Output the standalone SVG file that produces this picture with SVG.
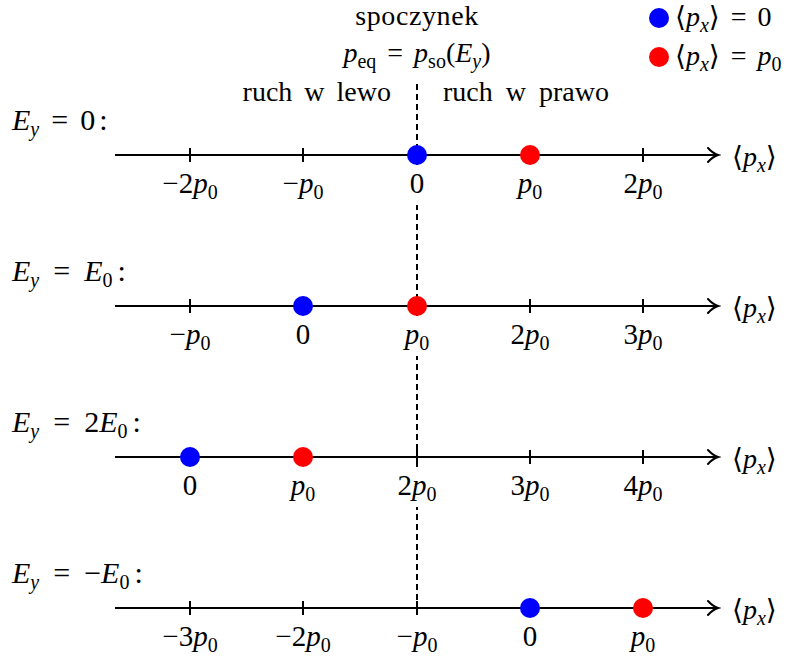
<svg xmlns="http://www.w3.org/2000/svg" width="795" height="656" viewBox="0 0 795 656">
<style>
.t{font-family:"Liberation Serif","DejaVu Serif",serif;fill:#000}
.h{font-size:28px}
.m{font-size:28px}
.e{font-size:30px}
.k{font-size:29px;text-anchor:middle}
.s{font-size:20px}
.i{font-style:italic}
.ax{stroke:#000;stroke-width:2;fill:none}
.tk{stroke:#000;stroke-width:2}
.dash{stroke:#000;stroke-width:2;stroke-dasharray:6 4}
.b{fill:#0000ff}
.r{fill:#ff0000}
.bg{fill:#fff}
</style>
<defs>
<marker id="arr" markerUnits="userSpaceOnUse" markerWidth="16" markerHeight="18" refX="1" refY="0" orient="auto" viewBox="-12 -9 16 18">
<path d="M-9,-7 Q-4,-1.5 1,0 Q-4,1.5 -9,7" fill="none" stroke="#000" stroke-width="2" stroke-linecap="round"/>
</marker>
</defs>
<rect width="795" height="656" fill="#fff"/>
<g id="connectors">
<line class="dash" x1="417" y1="84" x2="417" y2="608"/>
</g>
<g id="header">
<text class="t h" x="417" y="25" text-anchor="middle" letter-spacing="0.6">spoczynek</text>
<text class="t h" x="417" y="62" text-anchor="middle"><tspan class="i">p</tspan><tspan class="s" dy="6">eq</tspan><tspan dy="-6" dx="11">=</tspan><tspan class="i" dx="11">p</tspan><tspan class="s" dy="6">so</tspan><tspan dy="-6">(</tspan><tspan class="i">E</tspan><tspan class="i s" dy="6">y</tspan><tspan dy="-6">)</tspan></text>
<text class="t h" x="391" y="101" text-anchor="end" word-spacing="5">ruch w lewo</text>
<text class="t h" x="443" y="101" word-spacing="6">ruch w prawo</text>
</g>
<g id="legend">
<circle class="b" cx="659" cy="18" r="10"/>
<text class="t m" x="675" y="26">⟨<tspan class="i">p</tspan><tspan class="i s" dy="6">x</tspan><tspan dy="-6">⟩</tspan><tspan dx="11">=</tspan><tspan dx="11">0</tspan></text>
<circle class="r" cx="659" cy="57" r="10"/>
<text class="t m" x="675" y="65">⟨<tspan class="i">p</tspan><tspan class="i s" dy="6">x</tspan><tspan dy="-6">⟩</tspan><tspan dx="11">=</tspan><tspan class="i" dx="11">p</tspan><tspan class="s" dy="6">0</tspan></text>
</g>
<g id="row1">
<text class="t e" x="12" y="130"><tspan class="i">E</tspan><tspan class="i s" dy="6">y</tspan><tspan dy="-6" dx="12">=</tspan><tspan dx="12">0</tspan><tspan dx="4">:</tspan></text>
<line class="ax" x1="115" y1="155" x2="718" y2="155" marker-end="url(#arr)"/>
<path class="tk" d="M190,148V162M303,148V162M417,148V162M530,148V162M643,148V162"/>
<rect class="bg" x="400" y="165" width="34" height="40"/>
<text class="t k" x="190" y="193">−2<tspan class="i">p</tspan><tspan class="s" dy="6">0</tspan></text>
<text class="t k" x="303" y="193">−<tspan class="i">p</tspan><tspan class="s" dy="6">0</tspan></text>
<text class="t k" x="417" y="193">0</text>
<text class="t k" x="530" y="193"><tspan class="i">p</tspan><tspan class="s" dy="6">0</tspan></text>
<text class="t k" x="643" y="193">2<tspan class="i">p</tspan><tspan class="s" dy="6">0</tspan></text>
<circle class="b" cx="417" cy="155" r="10"/>
<circle class="r" cx="530" cy="155" r="10"/>
<text class="t m" x="732" y="166">⟨<tspan class="i">p</tspan><tspan class="i s" dy="6">x</tspan><tspan dy="-6">⟩</tspan></text>
</g>
<g id="row2">
<text class="t e" x="12" y="281"><tspan class="i">E</tspan><tspan class="i s" dy="6">y</tspan><tspan dy="-6" dx="14">=</tspan><tspan class="i" dx="14">E</tspan><tspan class="s" dy="6">0</tspan><tspan dy="-6" dx="5">:</tspan></text>
<line class="ax" x1="115" y1="306" x2="718" y2="306" marker-end="url(#arr)"/>
<path class="tk" d="M190,299V313M303,299V313M417,299V313M530,299V313M643,299V313"/>
<rect class="bg" x="398" y="316" width="38" height="40"/>
<text class="t k" x="190" y="344">−<tspan class="i">p</tspan><tspan class="s" dy="6">0</tspan></text>
<text class="t k" x="303" y="344">0</text>
<text class="t k" x="417" y="344"><tspan class="i">p</tspan><tspan class="s" dy="6">0</tspan></text>
<text class="t k" x="530" y="344">2<tspan class="i">p</tspan><tspan class="s" dy="6">0</tspan></text>
<text class="t k" x="643" y="344">3<tspan class="i">p</tspan><tspan class="s" dy="6">0</tspan></text>
<circle class="b" cx="303" cy="306" r="10"/>
<circle class="r" cx="417" cy="306" r="10"/>
<text class="t m" x="732" y="317">⟨<tspan class="i">p</tspan><tspan class="i s" dy="6">x</tspan><tspan dy="-6">⟩</tspan></text>
</g>
<g id="row3">
<text class="t e" x="12" y="432"><tspan class="i">E</tspan><tspan class="i s" dy="6">y</tspan><tspan dy="-6" dx="14">=</tspan><tspan dx="14">2</tspan><tspan class="i">E</tspan><tspan class="s" dy="6">0</tspan><tspan dy="-6" dx="5">:</tspan></text>
<line class="ax" x1="115" y1="457" x2="718" y2="457" marker-end="url(#arr)"/>
<path class="tk" d="M190,450V464M303,450V464M417,450V464M530,450V464M643,450V464"/>
<rect class="bg" x="390" y="467" width="54" height="40"/>
<text class="t k" x="190" y="495">0</text>
<text class="t k" x="303" y="495"><tspan class="i">p</tspan><tspan class="s" dy="6">0</tspan></text>
<text class="t k" x="417" y="495">2<tspan class="i">p</tspan><tspan class="s" dy="6">0</tspan></text>
<text class="t k" x="530" y="495">3<tspan class="i">p</tspan><tspan class="s" dy="6">0</tspan></text>
<text class="t k" x="643" y="495">4<tspan class="i">p</tspan><tspan class="s" dy="6">0</tspan></text>
<circle class="b" cx="190" cy="457" r="10"/>
<circle class="r" cx="303" cy="457" r="10"/>
<text class="t m" x="732" y="468">⟨<tspan class="i">p</tspan><tspan class="i s" dy="6">x</tspan><tspan dy="-6">⟩</tspan></text>
</g>
<g id="row4">
<text class="t e" x="12" y="583"><tspan class="i">E</tspan><tspan class="i s" dy="6">y</tspan><tspan dy="-6" dx="14">=</tspan><tspan dx="14">−</tspan><tspan class="i">E</tspan><tspan class="s" dy="6">0</tspan><tspan dy="-6" dx="5">:</tspan></text>
<line class="ax" x1="115" y1="608" x2="718" y2="608" marker-end="url(#arr)"/>
<path class="tk" d="M190,601V615M303,601V615M417,601V615M530,601V615M643,601V615"/>
<text class="t k" x="190" y="646">−3<tspan class="i">p</tspan><tspan class="s" dy="6">0</tspan></text>
<text class="t k" x="303" y="646">−2<tspan class="i">p</tspan><tspan class="s" dy="6">0</tspan></text>
<text class="t k" x="417" y="646">−<tspan class="i">p</tspan><tspan class="s" dy="6">0</tspan></text>
<text class="t k" x="530" y="646">0</text>
<text class="t k" x="643" y="646"><tspan class="i">p</tspan><tspan class="s" dy="6">0</tspan></text>
<circle class="b" cx="530" cy="608" r="10"/>
<circle class="r" cx="643" cy="608" r="10"/>
<text class="t m" x="732" y="619">⟨<tspan class="i">p</tspan><tspan class="i s" dy="6">x</tspan><tspan dy="-6">⟩</tspan></text>
</g>
</svg>
